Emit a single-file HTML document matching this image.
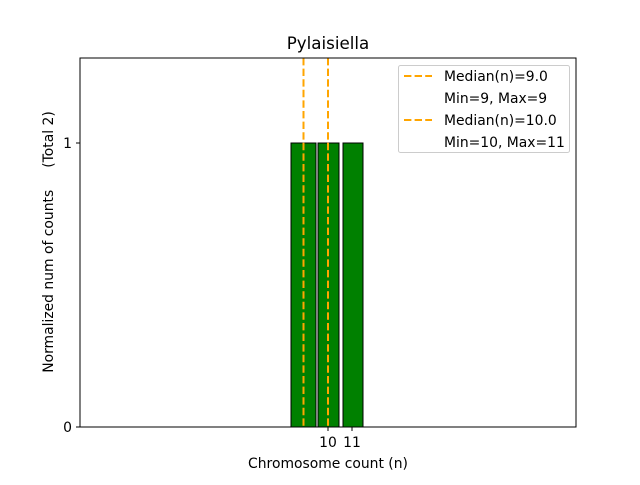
<!DOCTYPE html>
<html><head><style>body{margin:0;background:#fff}</style></head><body>
<svg width="640" height="480" viewBox="0 0 640 480" xmlns="http://www.w3.org/2000/svg" font-family="DejaVu Sans, Liberation Sans, sans-serif">
<rect width="640" height="480" fill="#fff"/>
<rect x="291" y="143" width="25" height="284" fill="#008000" stroke="#000" stroke-width="1"/>
<rect x="318" y="143" width="21" height="284" fill="#008000" stroke="#000" stroke-width="1"/>
<rect x="343" y="143" width="20" height="284" fill="#008000" stroke="#000" stroke-width="1"/>
<line x1="80" y1="427" x2="389" y2="427" stroke="#000" stroke-width="1"/>
<line x1="303.5" y1="58" x2="303.5" y2="427" stroke="#ffa500" stroke-width="2" stroke-dasharray="7.4,3.2"/>
<line x1="328" y1="58" x2="328" y2="427" stroke="#ffa500" stroke-width="2" stroke-dasharray="7.4,3.2"/>
<rect x="80" y="58" width="496" height="369" fill="none" stroke="#000" stroke-width="1"/>
<line x1="80" y1="427" x2="76" y2="427" stroke="#000"/>
<line x1="80" y1="143" x2="76" y2="143" stroke="#000"/>
<line x1="328" y1="427" x2="328" y2="431" stroke="#000"/>
<line x1="352" y1="427" x2="352" y2="431" stroke="#000"/>
<g font-size="13.9" fill="#000">
<text x="72" y="432" text-anchor="end">0</text>
<text x="72" y="148" text-anchor="end">1</text>
<text x="328" y="447" text-anchor="middle">10</text>
<text x="352" y="447" text-anchor="middle">11</text>
<text x="328" y="468" text-anchor="middle">Chromosome count (n)</text>
<text transform="translate(53,242) rotate(-90)" text-anchor="middle" xml:space="preserve">Normalized num of counts     (Total 2)</text>
</g>
<text x="328" y="49" text-anchor="middle" font-size="16.7">Pylaisiella</text>
<rect x="398.5" y="65.5" width="171" height="87" rx="2" fill="#fff" fill-opacity="0.8" stroke="#ccc"/>
<line x1="404" y1="76" x2="432" y2="76" stroke="#ffa500" stroke-width="2" stroke-dasharray="7.4,3.2"/>
<line x1="404" y1="120" x2="432" y2="120" stroke="#ffa500" stroke-width="2" stroke-dasharray="7.4,3.2"/>
<g font-size="13.9" fill="#000">
<text x="444" y="81">Median(n)=9.0</text>
<text x="444" y="103">Min=9, Max=9</text>
<text x="444" y="125">Median(n)=10.0</text>
<text x="444" y="147">Min=10, Max=11</text>
</g>
</svg>
</body></html>
